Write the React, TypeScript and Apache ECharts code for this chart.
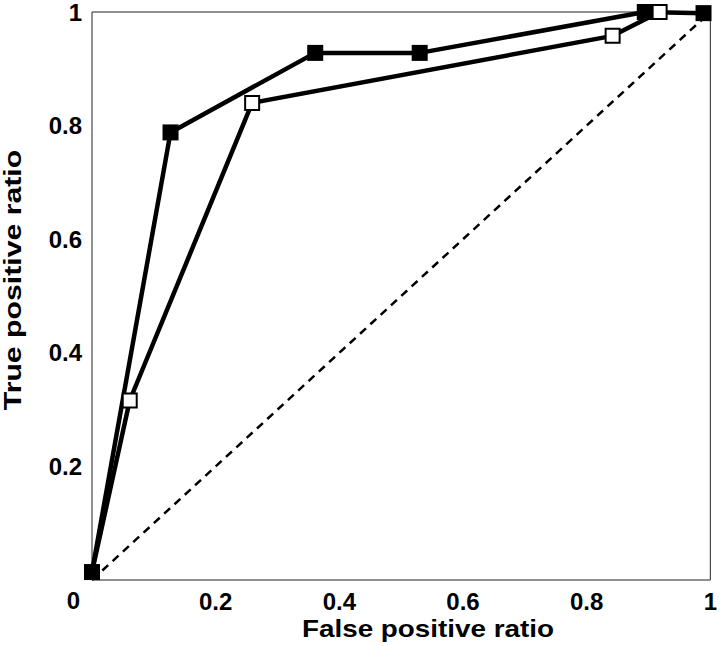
import React, { useEffect, useRef } from "react";
import * as echarts from "echarts";

const filledX = [0.0, 0.127, 0.361, 0.53, 0.894, 0.989];
const filledY = [0.014, 0.788, 0.928, 0.928, 1.0, 0.998];
const openX = [0.0, 0.061, 0.259, 0.842, 0.918];
const openY = [0.014, 0.316, 0.84, 0.958, 1.0];
const diagX = [0, 1];
const diagY = [0, 1];
const xTitle = "False positive ratio";
const yTitle = "True positive ratio";

const FONT = "Arial, 'Liberation Sans', sans-serif";

export default function App() {
  const ref = useRef<HTMLDivElement>(null);
  useEffect(() => {
    if (!ref.current) return;
    const chart = echarts.init(ref.current, undefined, { renderer: "svg" });
    const fmt = (v: number) => (v === 0 ? "" : String(+v.toFixed(1)));
    const labelStyle = {
      fontFamily: FONT,
      fontWeight: "bold",
      fontSize: 24,
      lineHeight: 22,
      color: "#000",
    };
    chart.setOption({
      animation: false,
      backgroundColor: "#fff",
      grid: {
        left: 92,
        top: 10,
        width: 621,
        height: 570,
        show: true,
        borderColor: "#222",
        borderWidth: 1,
        containLabel: false,
      },
      xAxis: {
        type: "value",
        min: 0,
        max: 1,
        interval: 0.2,
        axisLine: { show: false },
        axisTick: { show: false },
        splitLine: { show: false },
        axisLabel: { formatter: fmt, margin: 10, ...labelStyle },
      },
      yAxis: {
        type: "value",
        min: 0,
        max: 1,
        interval: 0.2,
        axisLine: { show: false },
        axisTick: { show: false },
        splitLine: { show: false },
        axisLabel: { formatter: fmt, margin: 10, ...labelStyle },
      },
      graphic: [
        {
          type: "text",
          x: 73.5,
          y: 600,
          style: {
            text: "0",
            fontFamily: FONT,
            fontWeight: "bold",
            fontSize: 24,
            lineHeight: 22,
            fill: "#000",
            align: "center",
            verticalAlign: "middle",
          },
        },
        {
          type: "text",
          x: 428,
          y: 629,
          scaleX: 1.16,
          style: {
            text: xTitle,
            fontFamily: FONT,
            fontWeight: "bold",
            fontSize: 24,
            fill: "#000",
            align: "center",
            verticalAlign: "middle",
          },
        },
        {
          type: "text",
          x: 13,
          y: 280,
          rotation: Math.PI / 2,
          scaleX: 1.26,
          style: {
            text: yTitle,
            fontFamily: FONT,
            fontWeight: "bold",
            fontSize: 24,
            fill: "#000",
            align: "center",
            verticalAlign: "middle",
          },
        },
      ],
      series: [
        {
          type: "line",
          data: diagX.map((x, i) => [x, diagY[i]]),
          showSymbol: false,
          symbol: "none",
          lineStyle: { color: "#000", width: 2.5, type: [8, 6] },
          z: 1,
        },
        {
          type: "line",
          data: filledX.map((x, i) => [x, filledY[i]]),
          symbol: "rect",
          symbolSize: 16,
          lineStyle: { color: "#000", width: 4.5 },
          itemStyle: { color: "#000", borderColor: "#000", borderWidth: 0 },
          z: 2,
        },
        {
          type: "line",
          data: openX.map((x, i) =>
            i === 0 ? { value: [x, openY[i]], symbol: "none" } : [x, openY[i]]
          ),
          symbol: "rect",
          symbolSize: 14,
          lineStyle: { color: "#000", width: 4.5 },
          itemStyle: { color: "#fff", borderColor: "#000", borderWidth: 2 },
          z: 3,
        },
      ],
    });
    return () => chart.dispose();
  }, []);
  return (
    <div
      ref={ref}
      style={{ position: "fixed", left: 0, top: 0, width: 720, height: 646, background: "#fff" }}
    />
  );
}
